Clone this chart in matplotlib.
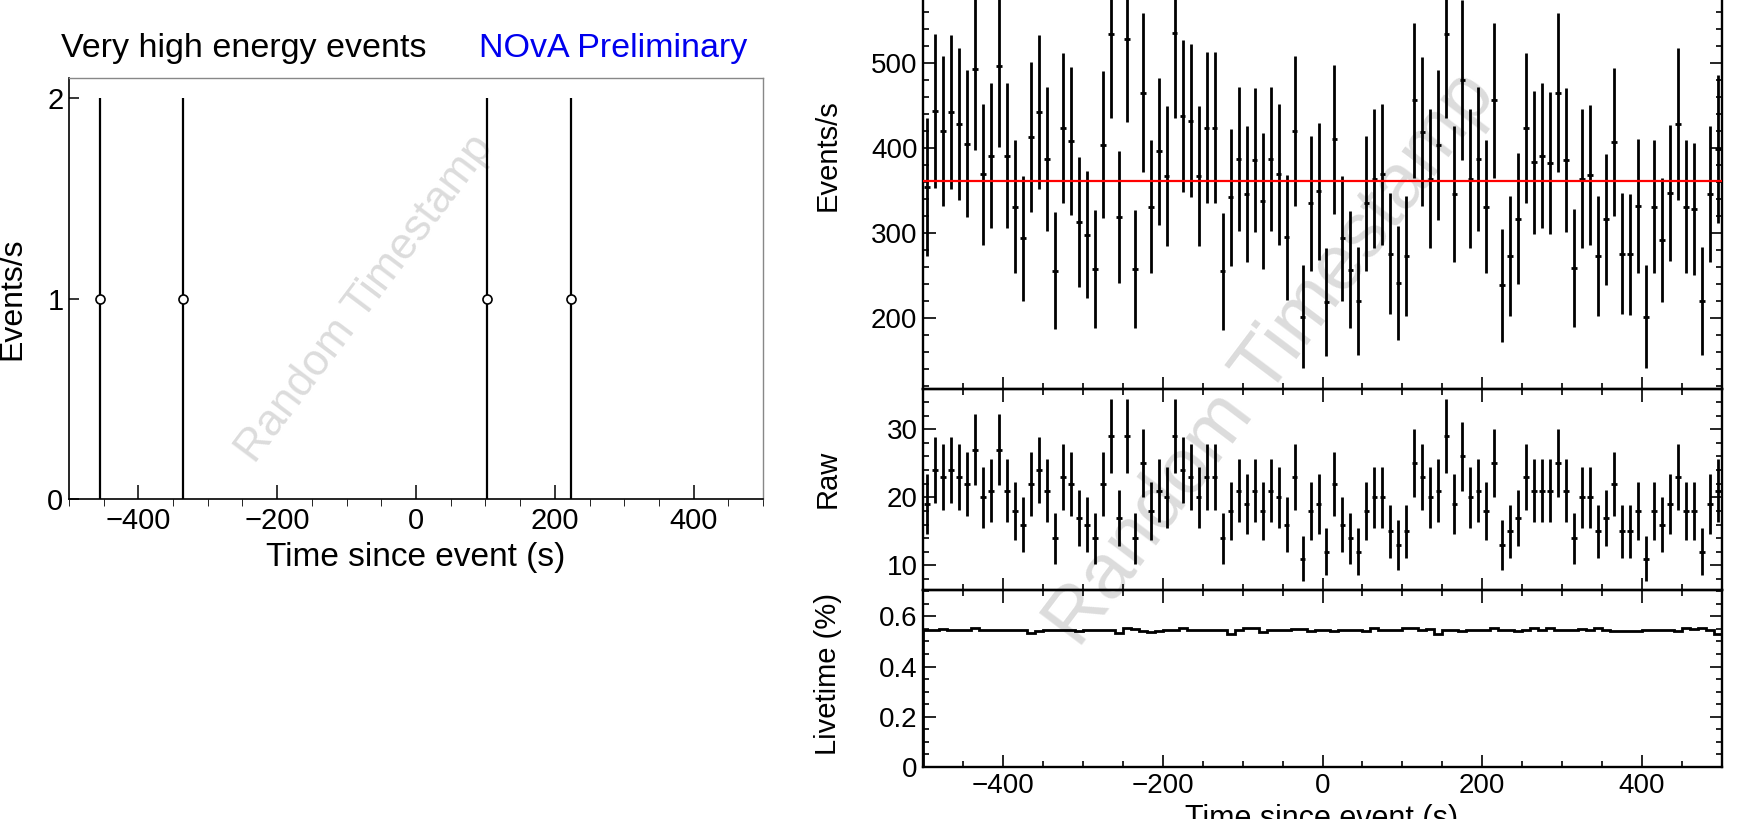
import numpy as np
import matplotlib.pyplot as plt
from matplotlib.ticker import MultipleLocator, FuncFormatter

plt.rcParams['font.family'] = ['Liberation Sans', 'DejaVu Sans']

W, H = 1748, 819

# left panel: very high energy events (time in s, rate in events/s)
vhe_time = [-455, -336, 103, 223]
vhe_rate = [1, 1, 1, 1]

# right panels: 10 s bins from -500 to 500
t_edges = np.arange(-500, 501, 10)
rate = [354, 443, 420, 442, 428, 405, 493, 369, 391, 496,
        391, 331, 294, 413, 442, 387, 256, 423, 408, 313,
        298, 258, 404, 534, 319, 528, 258, 465, 331, 396,
        367, 535, 437, 432, 367, 424, 424, 255, 342, 387,
        346, 386, 338, 387, 369, 295, 420, 202, 335, 349,
        219, 410, 294, 257, 220, 335, 364, 369, 276, 241,
        273, 456, 419, 364, 403, 534, 346, 480, 364, 387,
        331, 456, 239, 273, 317, 423, 383, 391, 382, 465,
        386, 259, 364, 368, 273, 316, 407, 276, 275, 332,
        202, 331, 292, 347, 428, 331, 328, 220, 346, 399]
raw = [19, 24, 23, 24, 23, 22, 27, 20, 21, 27,
       21, 18, 16, 22, 24, 21, 14, 23, 22, 17,
       16, 14, 22, 29, 17, 29, 14, 25, 18, 21,
       20, 29, 24, 23, 20, 23, 23, 14, 18, 21,
       19, 21, 18, 21, 20, 16, 23, 11, 18, 19,
       12, 22, 16, 14, 12, 18, 20, 20, 15, 13,
       15, 25, 23, 20, 21, 29, 19, 26, 20, 21,
       18, 25, 13, 15, 17, 23, 21, 21, 21, 25,
       21, 14, 20, 20, 15, 17, 22, 15, 15, 18,
       11, 18, 16, 19, 23, 18, 18, 12, 19, 21]
livetime = [.545, .545, .550, .545, .545, .547, .552, .547, .545, .545,
            .545, .547, .547, .535, .540, .545, .547, .547, .545, .543,
            .545, .547, .545, .545, .535, .553, .550, .543, .538, .540,
            .547, .547, .553, .545, .545, .545, .545, .547, .530, .547,
            .553, .553, .538, .545, .545, .545, .550, .550, .540, .545,
            .545, .540, .545, .545, .545, .540, .553, .547, .547, .545,
            .553, .553, .547, .550, .530, .547, .545, .543, .547, .547,
            .547, .552, .547, .547, .543, .545, .552, .545, .552, .547,
            .545, .547, .550, .547, .552, .545, .543, .543, .543, .543,
            .545, .545, .547, .547, .543, .552, .550, .553, .545, .530]
fit_const = 361

fig = plt.figure(figsize=(W / 100, H / 100), dpi=100)


def px_axes(x0, y0, x1, y1):
    # axes from pixel box (top-left origin)
    return fig.add_axes([x0 / W, 1 - y1 / H, (x1 - x0) / W, (y1 - y0) / H])


def fy(y):
    return 1 - y / H


# ---------------- left panel ----------------
ax = px_axes(69, 78, 763, 499)
ax.errorbar(vhe_time, vhe_rate, yerr=np.sqrt(vhe_rate), fmt='o', color='black',
            mfc='white', mec='black', ms=6.5, mew=1.2, elinewidth=1.6, capsize=0)
ax.set_xlim(-500, 500)
ax.set_ylim(0, 2.1)
ax.set_yticks([0, 1, 2])
ax.xaxis.set_major_locator(MultipleLocator(200))
ax.xaxis.set_minor_locator(MultipleLocator(50))
ax.tick_params(axis='both', direction='in', labelsize=21, width=1.1)
ax.tick_params(axis='x', which='major', length=10, pad=6)
ax.tick_params(axis='x', which='minor', length=5)
ax.tick_params(axis='y', which='major', length=7, pad=4)
for s in ['left', 'bottom']:
    ax.spines[s].set_linewidth(1.2)
for s in ['top', 'right']:
    ax.spines[s].set_color('#888888')
    ax.spines[s].set_linewidth(1.0)
ax.text(0.4265, 0.4756, 'Random Timestamp', transform=ax.transAxes, rotation=53,
        ha='center', va='center', fontsize=32, color='#dcdcdc', zorder=0)

fig.text(61 / W, fy(57), 'Very high energy events', fontsize=24.5, va='baseline', ha='left')
fig.text(479 / W, fy(57), 'NOvA Preliminary', fontsize=24.5, va='baseline', ha='left',
         color='#0000ee')
fig.text(416 / W, fy(566), 'Time since event (s)', fontsize=24, va='baseline', ha='center')
fig.text(20 / W, fy(299), 'Events/s', fontsize=23, rotation=90, rotation_mode='anchor',
         va='baseline', ha='center')

# ---------------- right panels ----------------
centers = (t_edges[:-1] + t_edges[1:]) / 2
rate_a = np.array(rate, dtype=float)
raw_a = np.array(raw, dtype=float)

ax1 = px_axes(923, -65, 1722, 389)
ax2 = px_axes(923, 389, 1722, 590)
ax3 = px_axes(923, 590, 1722, 767)

ax1.errorbar(centers, rate_a, yerr=rate_a / np.sqrt(raw_a), xerr=3.5, fmt='none',
             ecolor='black', elinewidth=2.0)
ax1.plot([-500, 500], [fit_const, fit_const], color='red', lw=1.6, zorder=5)
ax1.set_ylim(117, 650)
ax1.yaxis.set_major_locator(MultipleLocator(100))
ax1.yaxis.set_minor_locator(MultipleLocator(20))

ax2.errorbar(centers, raw_a, yerr=np.sqrt(raw_a), xerr=3.5, fmt='none',
             ecolor='black', elinewidth=2.0)
ax2.set_ylim(6.4, 35.9)
ax2.yaxis.set_major_locator(MultipleLocator(10))
ax2.yaxis.set_minor_locator(MultipleLocator(2))

ax3.stairs(livetime, t_edges, color='black', lw=2.0)
ax3.set_ylim(0, 0.705)
ax3.yaxis.set_major_locator(MultipleLocator(0.2))
ax3.yaxis.set_minor_locator(MultipleLocator(0.05))
ax3.yaxis.set_major_formatter(FuncFormatter(lambda v, p: '0' if abs(v) < 1e-9 else f'{v:.1f}'))

for a in (ax1, ax2, ax3):
    a.set_facecolor('none')
    a.set_xlim(-500, 500)
    a.xaxis.set_major_locator(MultipleLocator(200))
    a.xaxis.set_minor_locator(MultipleLocator(50))
    a.tick_params(which='both', direction='in', top=True, right=True, width=1.2,
                  labelsize=20)
    a.tick_params(which='major', length=9, pad=4)
    a.tick_params(which='minor', length=4.5)
    for s in a.spines.values():
        s.set_linewidth(1.7)
ax1.tick_params(labelbottom=False)
ax2.tick_params(labelbottom=False)

fig.text(1271 / W, fy(359), 'Random Timestamp', rotation=53, ha='center', va='center',
         fontsize=56, color='#dcdcdc', zorder=-1)

fig.text(836 / W, fy(155), 'Events/s', fontsize=21, rotation=90, rotation_mode='anchor',
         va='baseline', ha='center')
fig.text(836 / W, fy(479), 'Raw', fontsize=21, rotation=90, rotation_mode='anchor',
         va='baseline', ha='center')
fig.text(836 / W, fy(674), 'Livetime (%)', fontsize=21, rotation=90, rotation_mode='anchor',
         va='baseline', ha='center')
fig.text(1322 / W, fy(827), 'Time since event (s)', fontsize=22, va='baseline', ha='center')

fig.savefig('out.png', dpi=100)
